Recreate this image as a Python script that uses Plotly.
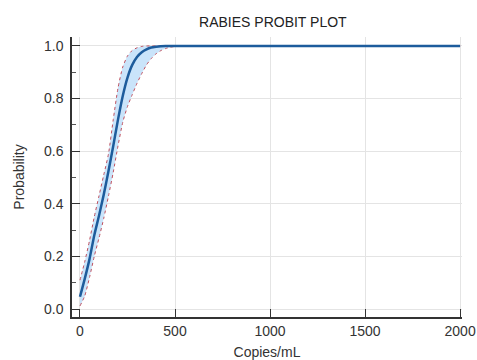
import plotly.graph_objects as go

# Data
copies = [0, 25, 50, 75, 100, 125, 150, 175, 200, 225, 250, 275, 300, 325, 350, 375, 400, 425, 450, 475, 500, 550, 2000]
prob_mean = [0.047, 0.115, 0.19, 0.28, 0.355, 0.435, 0.525, 0.62, 0.72, 0.81, 0.88, 0.928, 0.958, 0.976, 0.987, 0.994, 0.997, 0.999, 1.0, 1.0, 1.0, 1.0, 1.0]
prob_upper = [0.11, 0.18, 0.26, 0.35, 0.43, 0.51, 0.59, 0.72, 0.84, 0.92, 0.962, 0.983, 0.993, 0.998, 1.0, 1.0, 1.0, 1.0, 1.0, 1.0, 1.0, 1.0, 1.0]
prob_lower = [0.012, 0.05, 0.12, 0.20, 0.27, 0.345, 0.43, 0.52, 0.62, 0.71, 0.77, 0.815, 0.858, 0.895, 0.928, 0.952, 0.97, 0.982, 0.99, 0.995, 0.998, 1.0, 1.0]

x_ticks = [0, 500, 1000, 1500, 2000]
y_ticks = [0.0, 0.2, 0.4, 0.6, 0.8, 1.0]
y_tick_labels = ["0.0", "0.2", "0.4", "0.6", "0.8", "1.0"]

band_color = "rgba(196,225,250,0.9)"
bound_color = "#c0505e"
mean_color = "#1d5c9c"

fig = go.Figure()
fig.add_trace(go.Scatter(
    x=copies + copies[::-1],
    y=prob_upper + prob_lower[::-1],
    fill="toself", fillcolor=band_color,
    line=dict(width=0, shape="spline", smoothing=0.6),
    hoverinfo="skip", showlegend=False,
))
fig.add_trace(go.Scatter(
    x=copies, y=prob_upper, mode="lines",
    line=dict(color=bound_color, width=1, dash="dot", shape="spline", smoothing=0.6),
    showlegend=False,
))
fig.add_trace(go.Scatter(
    x=copies, y=prob_lower, mode="lines",
    line=dict(color=bound_color, width=1, dash="dot", shape="spline", smoothing=0.6),
    showlegend=False,
))
fig.add_trace(go.Scatter(
    x=copies, y=prob_mean, mode="lines",
    line=dict(color=mean_color, width=2.5, shape="spline", smoothing=0.6),
    showlegend=False,
))

font = "Liberation Sans, Arial, sans-serif"
fig.update_layout(
    width=477, height=360,
    margin=dict(l=72, r=15, t=37, b=43, autoexpand=False),
    paper_bgcolor="white", plot_bgcolor="white",
    font=dict(family=font, size=14, color="#333333"),
    title=dict(text="RABIES PROBIT PLOT", x=0.515, xanchor="center", xref="paper",
               y=0.939, yref="container", yanchor="middle",
               font=dict(family=font, size=14, color="#222222")),
    showlegend=False,
)
fig.update_xaxes(
    range=[-42, 2010], tickvals=x_ticks, ticktext=[str(v) for v in x_ticks],
    showgrid=True, gridcolor="#e4e4e4", gridwidth=1, zeroline=False,
    showline=True, linecolor="#333333", linewidth=1.5,
    ticks="inside", ticklen=8, tickcolor="#333333", tickwidth=1.2,
    automargin=False,
    title=dict(text="Copies/mL", standoff=10, font=dict(size=14)),
)
fig.update_yaxes(
    range=[-0.030, 1.034], tickvals=y_ticks, ticktext=y_tick_labels,
    showgrid=True, gridcolor="#e4e4e4", gridwidth=1, zeroline=False,
    showline=True, linecolor="#333333", linewidth=1.5,
    ticks="inside", ticklen=8, tickcolor="#333333", tickwidth=1.2,
    ticklabelstandoff=4,
    minor=dict(ticks="inside", ticklen=4, dtick=0.1, tick0=0, tickcolor="#555555", showgrid=False),
    automargin=False,
    title=dict(text="Probability", standoff=16, font=dict(size=14)),
)

fig.write_html("out.html", config={"displayModeBar": False},
               post_script="document.body.style.margin='0';")
